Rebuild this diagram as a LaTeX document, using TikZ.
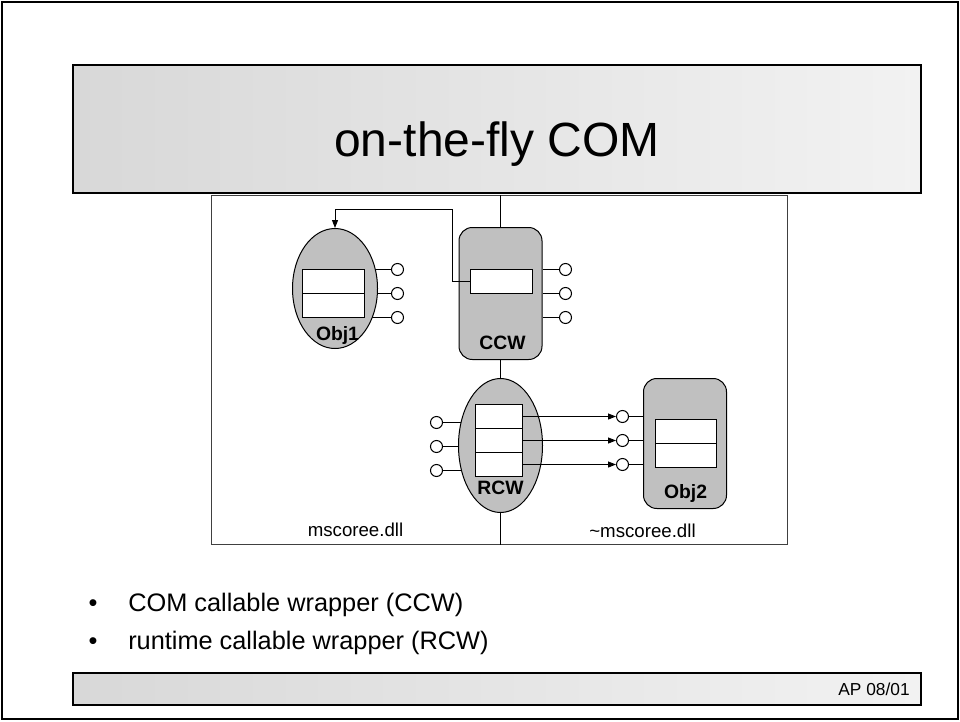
\documentclass[tikz,border=0pt]{standalone}
\usepackage{fontspec}
\setmainfont{Liberation Sans}
\usetikzlibrary{shapes.geometric,arrows.meta}

\definecolor{shapegray}{HTML}{C0C0C0}
\definecolor{barleft}{HTML}{D8D8D8}
\definecolor{barright}{HTML}{F2F2F2}

\tikzset{
  wire/.style={line width=0.75pt, draw=black},
  bar/.style={draw=black, line width=1pt, left color=barleft, right color=barright, inner sep=0pt},
  objellipse/.style={ellipse, draw=black, line width=0.75pt, fill=shapegray, inner sep=0pt},
  objbox/.style={rectangle, rounded corners=10pt, draw=black, line width=0.75pt, fill=shapegray, inner sep=0pt},
  slot/.style={rectangle, draw=black, line width=0.75pt, fill=white, inner sep=0pt, minimum height=18pt},
  port/.style={circle, draw=black, line width=0.75pt, fill=white, inner sep=0pt, minimum size=9pt},
  boxlabel/.style={font=\fontsize{14.5}{16}\selectfont\bfseries, inner sep=0pt},
  dlllabel/.style={font=\fontsize{14}{16}\selectfont, inner sep=0pt},
  bullettext/.style={font=\fontsize{19}{22}\selectfont, anchor=base west, inner sep=0pt},
  call/.style={line width=0.75pt, -{Triangle[length=6pt,width=4.5pt]}},
}

\begin{document}
\begin{tikzpicture}[x=0.75pt, y=-0.75pt]
\useasboundingbox (0,0) rectangle (960,721);

% page frame
\draw[line width=1.5pt] (2,2) rectangle (958,719);

% title bar
\node[bar, minimum width=636pt, minimum height=96pt] (titlebar) at (497,129) {};
\node[font=\fontsize{36}{40}\selectfont, anchor=base, inner sep=0pt] (title) at (497,156) {on-the-fly COM};

% half-pixel shift keeps the thin strokes sharp
\begin{scope}[shift={(0.5,0.5)}]

% diagram frame
\node[draw=black!75, line width=0.75pt, minimum width=432pt, minimum height=261.75pt, inner sep=0pt] (dbox) at (499,369.5) {};

% centres of the two oval objects
\coordinate (obj1c) at (334.5,288);
\coordinate (rcwo) at (500,445);

% interface ports of the oval objects, with stubs running into the ovals
\node[port] (pa) at (397,269) {};
\node[port] (pb) at (397,293) {};
\node[port] (pc) at (397,317) {};
\node[port] (ra) at (436,422) {};
\node[port] (rb) at (436,446) {};
\node[port] (rc) at (436,470) {};
\draw[wire] (pa.west) -- (pa.west -| obj1c);
\draw[wire] (pb.west) -- (pb.west -| obj1c);
\draw[wire] (pc.west) -- (pc.west -| obj1c);
\draw[wire] (ra.east) -- (ra.east -| rcwo);
\draw[wire] (rb.east) -- (rb.east -| rcwo);
\draw[wire] (rc.east) -- (rc.east -| rcwo);

% Obj1
\node[objellipse, minimum width=63.75pt, minimum height=90pt] (obj1) at (obj1c) {};
\node[slot, minimum width=46.5pt] (obj1a) at (333,281) {};
\node[slot, minimum width=46.5pt] (obj1b) at (333,305) {};
\node[boxlabel] (obj1l) at (337,335) {Obj1};

% CCW
\node[objbox, minimum width=62.25pt, minimum height=99pt] (ccw) at (500,293) {};
\node[slot, minimum width=46.5pt] (ccwa) at (501,281) {};
\node[boxlabel] (ccwl) at (502,342) {CCW};
\node[port] (ca) at (565,269) {};
\node[port] (cb) at (565,293) {};
\node[port] (cc) at (565,317) {};
\draw[wire] (ca.west) -- (ca.west -| ccw.east);
\draw[wire] (cb.west) -- (cb.west -| ccw.east);
\draw[wire] (cc.west) -- (cc.west -| ccw.east);

% RCW
\node[objellipse, minimum width=63pt, minimum height=100.5pt] (rcw) at (rcwo) {};
\node[slot, minimum width=35.25pt] (rcwa) at (498.5,416) {};
\node[slot, minimum width=35.25pt] (rcwb) at (498.5,440) {};
\node[slot, minimum width=35.25pt] (rcwc) at (498.5,464) {};
\node[boxlabel] (rcwl) at (500,487) {RCW};

% Obj2
\node[objbox, minimum width=62.25pt, minimum height=97.5pt] (obj2) at (684.5,443) {};
\node[slot, minimum width=45.75pt] (obj2a) at (685.5,431) {};
\node[slot, minimum width=45.75pt] (obj2b) at (685.5,455) {};
\node[boxlabel] (obj2l) at (685,493) {Obj2};
\node[port] (qa) at (622,416) {};
\node[port] (qb) at (622,440) {};
\node[port] (qc) at (622,464) {};
\draw[wire] (qa.east) -- (qa.east -| obj2.west);
\draw[wire] (qb.east) -- (qb.east -| obj2.west);
\draw[wire] (qc.east) -- (qc.east -| obj2.west);

% boundary between the two dlls
\draw[wire] (ccw.north) -- (ccw.north |- dbox.north);
\draw[wire] (ccw.south) -- (rcw.north);
\draw[wire] (rcw.south) -- (rcw.south |- dbox.south);

% calls
\coordinate (bend) at (452,209);
\draw[call] (ccwa.west) -| (bend) -| (obj1.north);
\draw[call] (rcwa.east) -- (qa.west);
\draw[call] (rcwb.east) -- (qb.west);
\draw[call] (rcwc.east) -- (qc.west);

% dll names
\node[dlllabel] (dllL) at (355,529) {mscoree.dll};
\node[dlllabel] (dllR) at (642,530) {\textasciitilde mscoree.dll};
\end{scope}

% bullet list
\node[bullettext] (b1) at (128,611) {COM callable wrapper (CCW)};
\node[bullettext] (b2) at (128,649) {runtime callable wrapper (RCW)};
\node[font=\fontsize{19}{22}\selectfont, anchor=base, inner sep=0pt] (d1) at (93,611) {•};
\node[font=\fontsize{19}{22}\selectfont, anchor=base, inner sep=0pt] (d2) at (93,649) {•};

% footer bar
\node[bar, minimum width=636pt, minimum height=24pt] (footer) at (497,689) {};
\node[font=\fontsize{13}{15}\selectfont, anchor=east, inner sep=0pt] (foot) at (910,689) {AP 08/01};
\end{tikzpicture}
\end{document}
